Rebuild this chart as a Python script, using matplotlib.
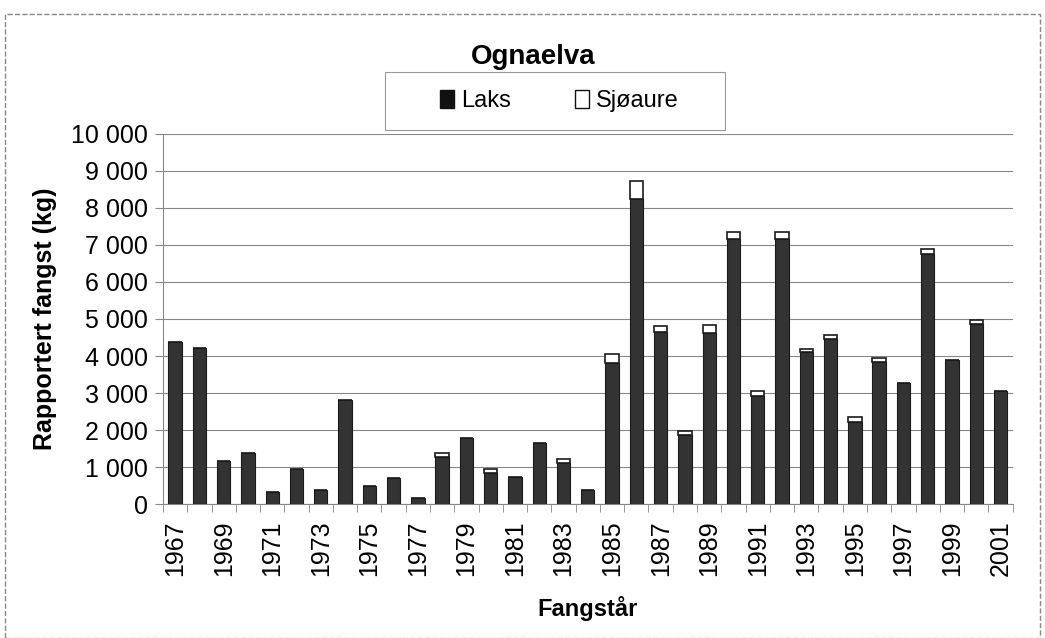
import matplotlib.pyplot as plt
import matplotlib.ticker as mticker
from matplotlib.patches import Rectangle, Patch
import numpy as np

plt.rcParams['font.family'] = ['Liberation Sans', 'DejaVu Sans']

# Data (kg)
years = list(range(1967, 2002))
laks = [4380, 4220, 1160, 1370, 330, 950, 380, 2810, 480, 690, 170,
        1270, 1780, 850, 740, 1640, 1100, 380, 3800, 8230, 4650, 1860,
        4620, 7160, 2910, 7160, 4100, 4450, 2230, 3830, 3270, 6770,
        3890, 4870, 3060]
sjoaure = [0, 0, 0, 0, 0, 0, 0, 0, 0, 0, 0,
           100, 0, 100, 0, 0, 110, 0, 260, 510, 150, 120,
           220, 190, 150, 190, 100, 120, 110, 120, 0, 110,
           0, 100, 0]
label_years = [str(y) for y in years]

fig = plt.figure(figsize=(10.45, 6.38), dpi=100)
ax = fig.add_axes([0.156, 0.210, 0.813, 0.580])

x = np.arange(len(years))
ax.bar(x, laks, width=0.55, color='#333333', edgecolor='#1a1a1a', linewidth=0.8, zorder=3)
ax.bar(x, sjoaure, bottom=laks, width=0.55, color='white', edgecolor='#1a1a1a', linewidth=1.2, zorder=3)

ax.set_xlim(-0.5, len(years) - 0.5)
ax.set_ylim(0, 10000)
ax.yaxis.set_major_locator(mticker.MultipleLocator(1000))
ax.yaxis.set_major_formatter(mticker.FuncFormatter(lambda v, p: f'{int(v):,}'.replace(',', ' ')))
ax.grid(axis='y', color='#888888', linewidth=0.8, zorder=0)

ax.set_xticks(x[::2])
ax.set_xticklabels(label_years[::2], rotation=90)
ax.set_xticks(np.arange(-0.5, len(years)), minor=True)
ax.tick_params(axis='x', which='major', length=0, labelsize=18, pad=12)
ax.tick_params(axis='x', which='minor', length=6, color='#888888')
ax.tick_params(axis='y', length=6, color='#888888', labelsize=18, pad=5)

for s in ['top', 'right']:
    ax.spines[s].set_visible(False)
for s in ['left', 'bottom']:
    ax.spines[s].set_color('#888888')

ax.set_ylabel('Rapportert fangst (kg)', fontsize=18, fontweight='bold', labelpad=10)
ax.set_xlabel('Fangstår', fontsize=17, fontweight='bold', labelpad=14)
fig.text(0.51, 1 - 57 / 638, 'Ognaelva', fontsize=20, fontweight='bold', ha='center', va='center')

# legend box
fig.patches.append(Rectangle((385 / 1045, 1 - 130 / 638), 340 / 1045, 58 / 638,
                             transform=fig.transFigure, facecolor='white',
                             edgecolor='#999999', linewidth=0.8, zorder=2))
handles = [Patch(facecolor='#111111', edgecolor='#111111'),
           Patch(facecolor='white', edgecolor='#111111')]
fig.legend(handles, ['Laks', 'Sjøaure'], ncol=2, loc='center',
           bbox_to_anchor=(0.535, 1 - 101 / 638), fontsize=17, frameon=False,
           handlelength=0.6, handleheight=0.8, handletextpad=0.3,
           columnspacing=2.7)

# outer chart border
fig.patches.append(Rectangle((5 / 1045, 0), 1035 / 1045, 624 / 638, transform=fig.transFigure,
                             fill=False, edgecolor='#888888', linewidth=1, linestyle='--'))

fig.savefig('out.png', dpi=100)
